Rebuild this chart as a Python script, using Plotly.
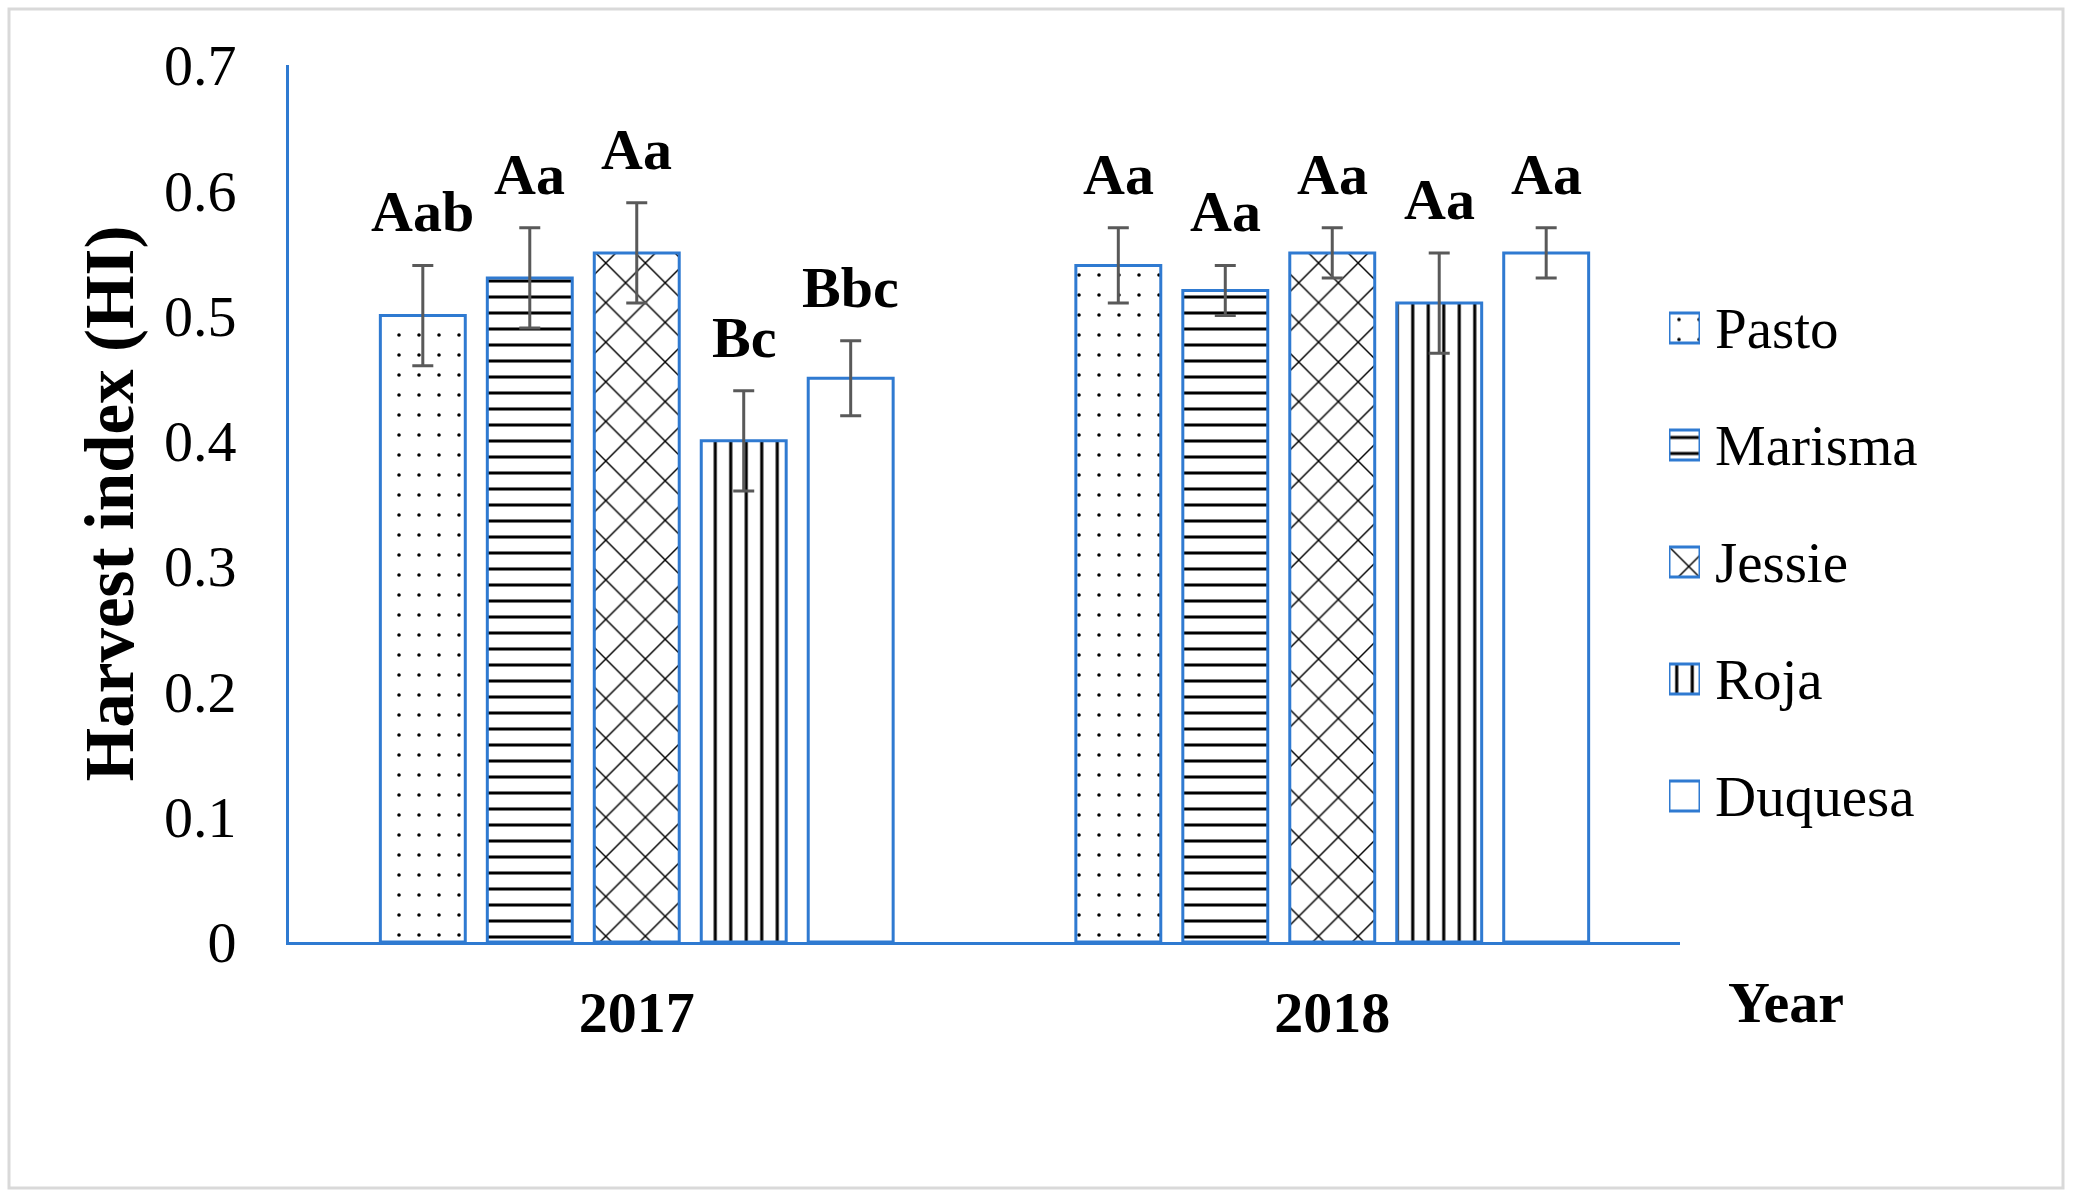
import plotly.graph_objects as go

# ---- data ----
years = ["2017", "2018"]
cultivars = ["Pasto", "Marisma", "Jessie", "Roja", "Duquesa"]
hi_2017 = [0.50, 0.53, 0.55, 0.40, 0.45]
hi_2018 = [0.54, 0.52, 0.55, 0.51, 0.55]
err_2017 = [0.04, 0.04, 0.04, 0.04, 0.03]
err_2018 = [0.03, 0.02, 0.02, 0.04, 0.02]
letters_2017 = ["Aab", "Aa", "Aa", "Bc", "Bbc"]
letters_2018 = ["Aa", "Aa", "Aa", "Aa", "Aa"]
y_ticks = [0, 0.1, 0.2, 0.3, 0.4, 0.5, 0.6, 0.7]

# ---- styles ----
BLUE = "#2F7AD1"
ERR = "#595959"
SERIF = "Liberation Serif"
pat_shapes = [".", "-", "x", "|", ""]
pat_sizes = [20, 16, 28, 15.5, 10]
pat_solid = [0.025, 0.19, 0.1, 0.2, 0.2]

W, H = 2076, 1198
ML, MR, MT, MB = 289, 0, 65, 256
PW = W - ML - MR          # plotting region width (px)
PH = H - MT - MB          # plotting region height (px)
AX_RIGHT = 1680           # right end of the x axis (px)
BARGAP = 0.231
BARGROUPGAP = 0.206

def px_x(px):
    return (px - ML) / PW

def px_y(py):
    return (H - MB - py) / PH

fig = go.Figure()
for i, name in enumerate(cultivars):
    fig.add_trace(go.Bar(
        name=name,
        x=years,
        y=[hi_2017[i], hi_2018[i]],
        marker=dict(
            color="white",
            line=dict(color=BLUE, width=3),
            pattern=dict(shape=pat_shapes[i], size=pat_sizes[i], solidity=pat_solid[i],
                         fgcolor="black", bgcolor="white", fillmode="replace"),
        ),
        error_y=dict(type="data", array=[err_2017[i], err_2018[i]], visible=True,
                     color=ERR, thickness=3, width=10.5),
        showlegend=False,
    ))

# legend drawn as a small inset: one patterned square per cultivar
ICON = 0.256
fig.add_trace(go.Bar(
    orientation="h",
    y=cultivars, x=[1] * len(cultivars), base=0,
    width=[ICON] * len(cultivars), offset=[-ICON / 2] * len(cultivars),
    xaxis="x2", yaxis="y2",
    marker=dict(
        color="white",
        line=dict(color=BLUE, width=3),
        pattern=dict(shape=pat_shapes, size=pat_sizes, solidity=pat_solid,
                     fgcolor="black", bgcolor="white", fillmode="replace"),
    ),
    showlegend=False, hoverinfo="skip",
))

# significance letters above error bars
slot = (1 - BARGAP) / len(cultivars)
annotations = []
for j, (vals, errs, letters) in enumerate([(hi_2017, err_2017, letters_2017),
                                          (hi_2018, err_2018, letters_2018)]):
    for i in range(len(cultivars)):
        annotations.append(dict(
            x=j + (i - (len(cultivars) - 1) / 2) * slot,
            y=vals[i] + errs[i], xref="x", yref="y",
            text=letters[i], showarrow=False, yanchor="bottom", yshift=19,
            font=dict(family=SERIF, size=58, color="black", weight="bold"),
        ))

annotations.append(dict(
    x=px_x(1786), y=px_y(1003),
    xref="paper", yref="paper", text="Year", showarrow=False,
    xanchor="center", yanchor="middle",
    font=dict(family=SERIF, size=58, color="black", weight="bold"),
))

frame = dict(type="rect", xref="paper", yref="paper",
             x0=px_x(9), x1=px_x(2063), y0=px_y(1188), y1=px_y(9),
             line=dict(color="#D9D9D9", width=3), fillcolor="rgba(0,0,0,0)",
             layer="below")

fig.update_layout(
    width=W, height=H,
    margin=dict(l=ML, r=MR, t=MT, b=MB, pad=0),
    paper_bgcolor="white", plot_bgcolor="white",
    barmode="group", bargap=BARGAP, bargroupgap=BARGROUPGAP,
    showlegend=False,
    annotations=annotations,
    shapes=[frame],
    font=dict(family=SERIF, color="black"),
    xaxis=dict(
        domain=[0, px_x(AX_RIGHT)],
        type="category", range=[-0.5, 1.5],
        showline=True, linecolor=BLUE, linewidth=3,
        showgrid=False, zeroline=False, ticks="",
        tickfont=dict(family=SERIF, size=58, color="black", weight="bold"),
        ticklabelstandoff=17,
    ),
    yaxis=dict(
        range=[0, 0.7], tickvals=y_ticks, ticktext=[f"{v:g}" for v in y_ticks],
        showline=True, linecolor=BLUE, linewidth=3,
        showgrid=False, zeroline=False, ticks="",
        tickfont=dict(family=SERIF, size=58, color="black"),
        ticklabelstandoff=38,
        title=dict(text="Harvest index (HI)", standoff=8,
                   font=dict(family=SERIF, size=69, color="black", weight="bold")),
    ),
    xaxis2=dict(
        domain=[px_x(1669), px_x(1700)], anchor="y2", range=[0, 1],
        visible=False, fixedrange=True,
    ),
    yaxis2=dict(
        domain=[px_y(328 + 4 * 117 + 58.5), px_y(328 - 58.5)], anchor="x2",
        type="category", categoryorder="array", categoryarray=cultivars,
        autorange="reversed", side="right",
        showline=False, showgrid=False, zeroline=False, ticks="",
        tickfont=dict(family=SERIF, size=57, color="black"),
        ticklabelstandoff=14, fixedrange=True,
    ),
)

fig.write_html(
    "out.html",
    config={"displayModeBar": False},
    post_script="document.body.style.margin='0';document.body.style.overflow='hidden';",
)
